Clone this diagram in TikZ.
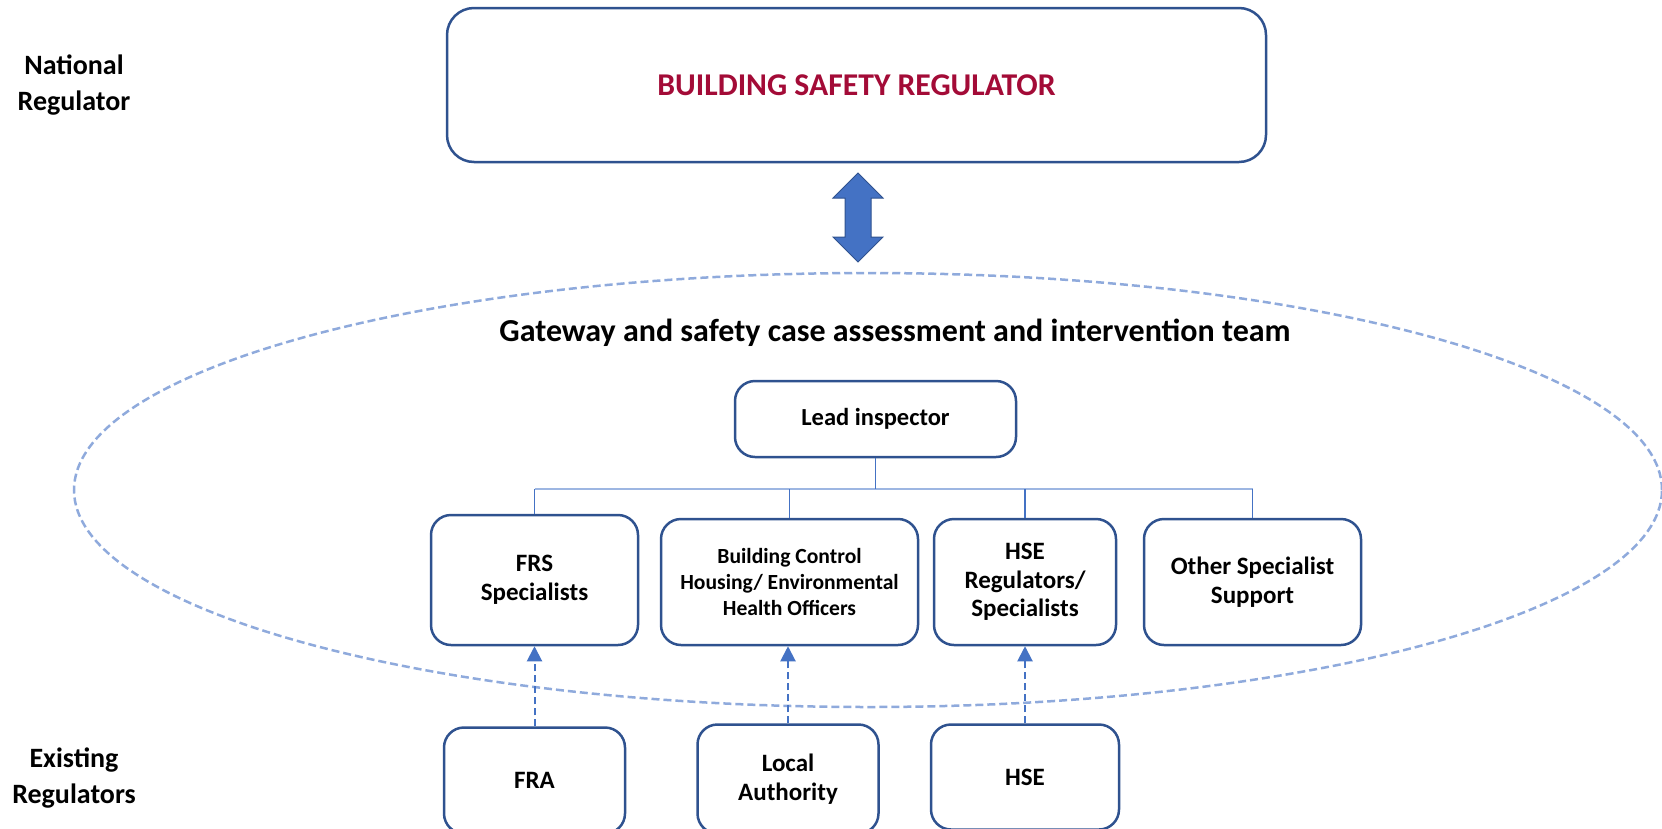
\documentclass[tikz,border=0pt]{standalone}
\usepackage{fontspec}
\setmainfont{Carlito}
\usetikzlibrary{arrows.meta, shapes.geometric}

\definecolor{boxedge}{RGB}{47,82,143}
\definecolor{linkblue}{RGB}{68,114,196}
\definecolor{ringblue}{RGB}{143,170,220}
\definecolor{busblue}{RGB}{157,182,226}
\definecolor{bsrred}{RGB}{163,11,55}

\tikzset{
  regbox/.style={draw=boxedge, line width=2.5pt, rounded corners=20pt, align=center, inner sep=0pt, font=\bfseries\fontsize{25}{28.5}\selectfont},
  sidelabel/.style={align=center, font=\bfseries\fontsize{28}{36}\selectfont},
  teamring/.style={ellipse, draw=ringblue, line width=2.5pt, dash pattern=on 8pt off 4pt, inner sep=0pt},
  tree/.style={draw=linkblue, line width=1.5pt},
  bus/.style={draw=busblue, line width=2.5pt},
  feed/.style={draw=linkblue, line width=2pt, dash pattern=on 7pt off 4pt, -{Triangle[length=15pt, width=15pt]}},
  bigarrow/.style={fill=linkblue, draw=boxedge, line width=1pt, line join=miter}
}

\begin{document}
\begin{tikzpicture}[x=1pt, y=-1pt]
\useasboundingbox (0,0) rectangle (1662,828);

\node[regbox, rounded corners=27pt, minimum width=819pt, minimum height=154pt, text=bsrred, font=\bfseries\fontsize{31.7}{36}\selectfont] (bsr) at (856.5,85) {BUILDING SAFETY REGULATOR};
\node[sidelabel] (national) at (74,85) {National\\Regulator};
\node[sidelabel] (existing) at (74,778) {Existing\\Regulators};

\node[teamring, minimum width=1588pt, minimum height=434pt] (team) at (868,490) {};
\node[font=\bfseries\fontsize{32}{38}\selectfont] (teamtitle) at (895,333) {Gateway and safety case assessment and intervention team};

\node[regbox, minimum width=281pt, minimum height=76pt, font=\bfseries\fontsize{24.5}{28}\selectfont] (lead) at (875.5,419) {Lead inspector};

\node[regbox, minimum width=207pt, minimum height=130pt] (frs) at (534.5,580) {FRS\\Specialists};
\node[regbox, minimum width=257pt, minimum height=126pt, font=\bfseries\fontsize{21.6}{26}\selectfont] (bc) at (789.5,582) {Building Control\\Housing/ Environmental\\Health Officers};
\node[regbox, minimum width=182pt, minimum height=126pt] (hsespec) at (1025,582) {HSE\\Regulators/\\Specialists};
\node[regbox, minimum width=217pt, minimum height=126pt] (other) at (1252.5,582) {Other Specialist\\Support};

\node[regbox, minimum width=181pt, minimum height=106pt] (fra) at (534.5,780.5) {FRA};
\node[regbox, minimum width=181pt, minimum height=109pt] (la) at (788,779) {Local\\Authority};
\node[regbox, minimum width=188pt, minimum height=105pt] (hse) at (1025,777) {HSE};

\draw[bigarrow] (858,173) -- (883,198) -- (871,198) -- (871,237) -- (883,237) -- (858,262)
  -- (833,237) -- (845,237) -- (845,198) -- (833,198) -- cycle;

\coordinate (busL) at (534.5,489);
\coordinate (busR) at (1252.5,489);
\draw[bus] (busL) -- (busR);
\draw[tree] (lead.south) -- (lead.south |- busL);
\foreach \n in {frs,bc,hsespec,other}
  \draw[tree] (\n.north |- busL) -- (\n.north);

\draw[feed] (fra.north) -- (frs.south);
\draw[feed] (la.north) -- (la.north |- bc.south);
\draw[feed] (hse.north) -- (hsespec.south);
\end{tikzpicture}
\end{document}
